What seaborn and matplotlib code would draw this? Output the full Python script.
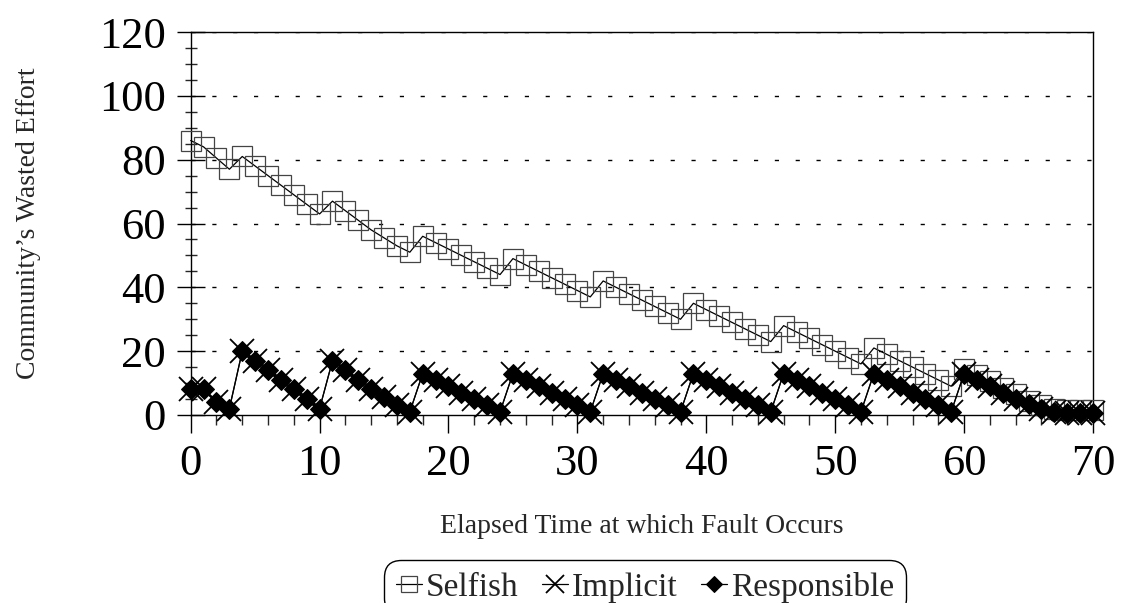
import numpy as np
import pandas as pd
import matplotlib
matplotlib.use("Agg")
import matplotlib.pyplot as plt
from matplotlib.ticker import MultipleLocator
import seaborn as sns

# ---- data ----
elapsed = list(range(0, 71))
selfish = [86, 84, 80.5, 77,
           81, 78, 75, 72, 69, 66, 63,
           67, 64, 61, 58, 55.5, 53, 51,
           56, 54, 52, 50, 48, 46, 44,
           49, 47, 45, 43, 41, 39, 37,
           42, 40, 38, 36, 34, 32, 30,
           35, 33, 31, 29, 27, 25, 23,
           28, 26, 24, 22, 20, 18, 16,
           21, 19, 17, 15, 13, 11, 9,
           14.5, 12.5, 10.5, 8.5, 6.5, 4.5, 3, 2, 1.5, 1.5, 1.5]
responsible = [8, 8, 4, 2,
               20, 17, 14, 11, 8, 5, 2,
               17, 14, 11, 8, 5.5, 3, 1,
               13, 11, 9, 7, 5, 3, 1,
               13, 11, 9, 7, 5, 3, 1,
               13, 11, 9, 7, 5, 3, 1,
               13, 11, 9, 7, 5, 3, 1,
               13, 11, 9, 7, 5, 3, 1,
               13, 11, 9, 7, 5, 3, 1,
               13, 11, 9, 7, 5, 3.5, 2, 1, 0.5, 0.5, 0.5]
implicit = list(responsible)
series_names = ["Selfish", "Implicit", "Responsible"]
y_ticks = [0, 20, 40, 60, 80, 100, 120]
x_ticks = [0, 10, 20, 30, 40, 50, 60, 70]

df = pd.DataFrame({"Elapsed": elapsed, "Selfish": selfish,
                   "Implicit": implicit, "Responsible": responsible})

sns.set_style("ticks")
plt.rcParams["font.family"] = ["Liberation Serif", "DejaVu Serif"]

W, H = 1121, 603
fig = plt.figure(figsize=(W / 100, H / 100), dpi=100)
ax_l, ax_r, ax_t, ax_b = 190.7, 1093, 32, 415
ax = fig.add_axes([ax_l / W, 1 - ax_b / H, (ax_r - ax_l) / W, (ax_b - ax_t) / H])

# dashed horizontal gridlines
for yv in y_ticks[1:]:
    ax.axhline(yv, color="black", lw=1.0, ls=(0, (3, 12)), zorder=0)

sns.lineplot(data=df, x="Elapsed", y=series_names[0], ax=ax, color="black", lw=0.9,
             marker="s", markersize=14.5, markerfacecolor="none",
             markeredgecolor="#444444", markeredgewidth=0.9, clip_on=False,
             label=series_names[0], zorder=3)
sns.lineplot(data=df, x="Elapsed", y=series_names[1], ax=ax, color="black", lw=0.9,
             marker="x", markersize=17, markeredgewidth=1.3,
             markeredgecolor="black", clip_on=False, label=series_names[1], zorder=4)
sns.lineplot(data=df, x="Elapsed", y=series_names[2], ax=ax, color="black", lw=0.9,
             marker="D", markersize=10, markerfacecolor="black",
             markeredgecolor="black", clip_on=False, label=series_names[2], zorder=5)

ax.set_xlim(0, 70)
ax.set_ylim(0, 120)
ax.set_xticks(x_ticks)
ax.set_yticks(y_ticks)
ax.xaxis.set_minor_locator(MultipleLocator(2))
ax.yaxis.set_minor_locator(MultipleLocator(5))
ax.tick_params(axis="x", which="major", direction="out", length=13, width=1,
               labelsize=32, pad=8, colors="black")
ax.tick_params(axis="x", which="minor", direction="out", length=7, width=1)
ax.tick_params(axis="y", which="major", direction="inout", length=20, width=1,
               labelsize=32, pad=8, colors="black")
ax.tick_params(axis="y", which="minor", direction="inout", length=8, width=1)
for s in ax.spines.values():
    s.set_color("black")
    s.set_linewidth(1)

ax.set_xlabel("Elapsed Time at which Fault Occurs", fontsize=20)
ax.set_ylabel("Community\u2019s Wasted Effort", fontsize=20)
ax.yaxis.set_label_coords(-(ax_l - 41) / (ax_r - ax_l), 0.5)
ax.xaxis.set_label_coords(0.5, -(514 - ax_b) / (ax_b - ax_t))

handles, labels = ax.get_legend_handles_labels()
ax.get_legend().remove()
leg = fig.legend(handles, labels, loc="upper center", ncol=3,
                 bbox_to_anchor=(((ax_l + ax_r) / 2 + 3) / W, 1 - 560 / H),
                 borderaxespad=0, fontsize=24, frameon=True, fancybox=True,
                 handlelength=0.8, handletextpad=0.1, columnspacing=0.7,
                 borderpad=0.35, markerscale=0.8,
                 edgecolor="black", framealpha=1)
leg.get_frame().set_linewidth(1)
leg.get_frame().set_boxstyle("round", pad=0, rounding_size=0.5)

fig.savefig("out.png", dpi=100)
